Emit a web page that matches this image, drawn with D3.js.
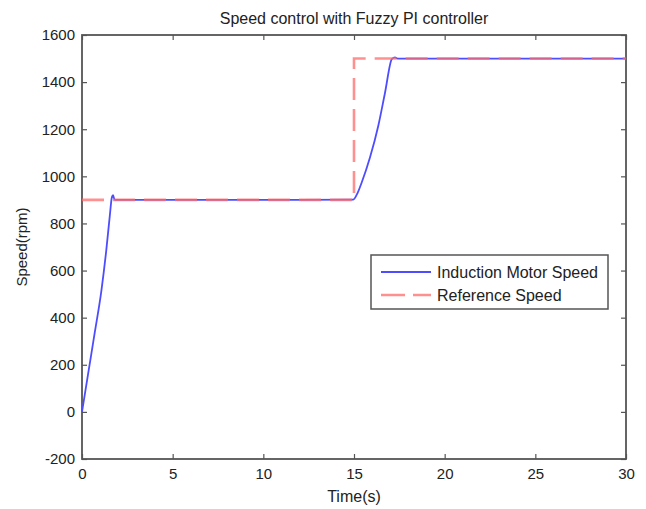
<!DOCTYPE html>
<html>
<head>
<meta charset="utf-8">
<script src="https://cdn.jsdelivr.net/npm/d3@7"></script>
<style>
  body { margin: 0; background: #fff; }
  text { font-family: "Liberation Sans", Arial, sans-serif; fill: #222; }
</style>
</head>
<body>
<div id="chart"></div>
<script>
// Données
const motorTime = [0, 0.33, 0.7, 1.07, 1.34, 1.53, 1.65, 1.71, 1.76, 1.82, 5, 10, 14.96,
  15.2, 15.43, 15.88, 16.34, 16.71, 17.08, 17.18, 17.26, 17.4, 20, 25, 30];
const motorSpeed = [0, 158, 335, 515, 687, 830, 912, 920, 908, 900, 900, 900, 901,
  930, 975, 1080, 1215, 1355, 1497, 1503, 1505, 1500, 1500, 1500, 1500];
const refTime = [0, 15, 15, 30];
const refSpeed = [900, 900, 1500, 1500];
const xTicks = [0, 5, 10, 15, 20, 25, 30];
const yTicks = [-200, 0, 200, 400, 600, 800, 1000, 1200, 1400, 1600];
const seriesNames = ["Induction Motor Speed", "Reference Speed"];

const width = 646, height = 509;
const margin = { top: 35, right: 20, bottom: 50, left: 82 };

const svg = d3.select("#chart").append("svg")
  .attr("width", width).attr("height", height);

const x = d3.scaleLinear().domain([0, 30]).range([margin.left, width - margin.right]);
const y = d3.scaleLinear().domain([-200, 1600]).range([height - margin.bottom, margin.top]);

const frameColor = "#555";
const fmt = d => String(d); // tiret simple pour -200

// Graduations (vers l'intérieur, sur les quatre côtés)
svg.append("g")
  .attr("transform", `translate(0,${y(-200)})`)
  .call(d3.axisBottom(x).tickValues(xTicks).tickFormat(fmt).tickSize(-5).tickPadding(9).tickSizeOuter(0))
  .call(g => g.select(".domain").remove());
svg.append("g")
  .attr("transform", `translate(0,${y(1600)})`)
  .call(d3.axisTop(x).tickValues(xTicks).tickSize(-5).tickFormat("").tickSizeOuter(0))
  .call(g => g.select(".domain").remove());
svg.append("g")
  .attr("transform", `translate(${x(0)},0)`)
  .call(d3.axisLeft(y).tickValues(yTicks).tickFormat(fmt).tickSize(-5).tickPadding(7).tickSizeOuter(0))
  .call(g => g.select(".domain").remove());
svg.append("g")
  .attr("transform", `translate(${x(30)},0)`)
  .call(d3.axisRight(y).tickValues(yTicks).tickSize(-5).tickFormat("").tickSizeOuter(0))
  .call(g => g.select(".domain").remove());

svg.selectAll(".tick line").attr("stroke", frameColor).attr("stroke-width", 1.2);
svg.selectAll(".tick text")
  .style("font-family", "'Liberation Sans', Arial, sans-serif")
  .style("font-size", "15px").attr("fill", "#222");

// Cadre
svg.append("rect")
  .attr("x", x(0)).attr("y", y(1600))
  .attr("width", x(30) - x(0)).attr("height", y(-200) - y(1600))
  .attr("fill", "none").attr("stroke", frameColor).attr("stroke-width", 1.8);

// Courbes
const motorData = motorTime.map((t, i) => [t, motorSpeed[i]]);
const refData = refTime.map((t, i) => [t, refSpeed[i]]);
const line = d3.line().x(d => x(d[0])).y(d => y(d[1]));

svg.append("path").datum(motorData)
  .attr("d", line.curve(d3.curveMonotoneX)).attr("fill", "none")
  .attr("stroke", "#4d4dff").attr("stroke-width", 1.8);

svg.append("path").datum(refData)
  .attr("d", line.curve(d3.curveLinear)).attr("fill", "none")
  .attr("stroke", "#ff6b6b").attr("stroke-opacity", 0.75)
  .attr("stroke-width", 2.6).attr("stroke-dasharray", "22,9");

// Titre et axes
svg.append("text")
  .attr("x", (x(0) + x(30)) / 2).attr("y", 24)
  .attr("text-anchor", "middle").style("font-size", "16px")
  .text("Speed control with Fuzzy PI controller");

svg.append("text")
  .attr("x", (x(0) + x(30)) / 2).attr("y", 502)
  .attr("text-anchor", "middle").style("font-size", "16px")
  .text("Time(s)");

svg.append("text")
  .attr("transform", `translate(27,${(y(-200) + y(1600)) / 2}) rotate(-90)`)
  .attr("text-anchor", "middle").style("font-size", "15px")
  .text("Speed(rpm)");

// Légende
const legend = svg.append("g").attr("transform", "translate(371,255)");
legend.append("rect")
  .attr("width", 237).attr("height", 54)
  .attr("fill", "#fff").attr("stroke", frameColor).attr("stroke-width", 1.5);
legend.append("line")
  .attr("x1", 10).attr("x2", 60).attr("y1", 17).attr("y2", 17)
  .attr("stroke", "#4d4dff").attr("stroke-width", 1.8);
legend.append("line")
  .attr("x1", 10).attr("x2", 60).attr("y1", 40).attr("y2", 40)
  .attr("stroke", "#ff6b6b").attr("stroke-opacity", 0.75)
  .attr("stroke-width", 2.6).attr("stroke-dasharray", "24,8");
legend.selectAll("text.label")
  .data(seriesNames).enter().append("text")
  .attr("class", "label")
  .attr("x", 66).attr("y", (d, i) => 17 + i * 23).attr("dy", "0.35em")
  .style("font-size", "16px")
  .text(d => d);
</script>
</body>
</html>
